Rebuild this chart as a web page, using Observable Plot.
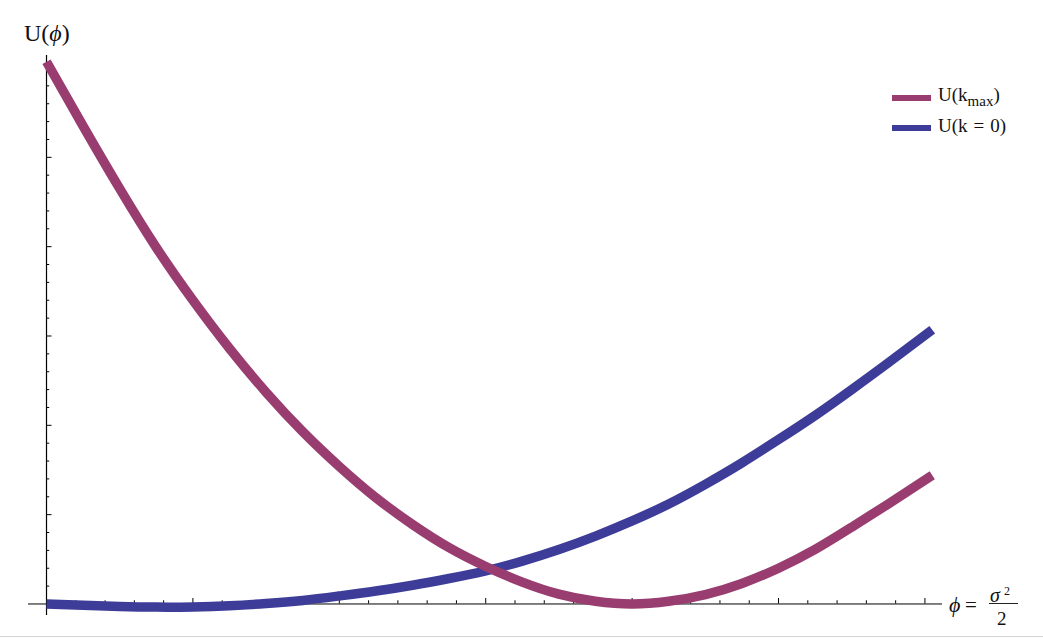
<!DOCTYPE html>
<html>
<head>
<meta charset="utf-8">
<script src="https://cdn.jsdelivr.net/npm/d3@7"></script>
<script src="https://cdn.jsdelivr.net/npm/@observablehq/plot@0.6"></script>
<style>
  html, body { margin: 0; padding: 0; background: #fff; }
  #wrap { position: relative; width: 1043px; height: 642px; overflow: hidden; background: #fff; }
  #chart svg { display: block; }
  .lbl { position: absolute; font-family: "Liberation Serif", "Times New Roman", Times, "DejaVu Serif", serif; color: #111; line-height: 1; white-space: nowrap; }
  .sw { position: absolute; height: 6px; width: 39px; }
  #bottomline { position: absolute; left: 0; top: 636px; width: 1043px; height: 1px; background: #d4d4d4; }
</style>
</head>
<body>
<div id="wrap">
  <div id="chart"></div>
  <div class="lbl" style="left:24px;top:21px;font-size:24px">U(<i>ϕ</i>)</div>

  <div class="sw" style="left:892px;top:95px;background:#993D71"></div>
  <div class="lbl" style="left:938px;top:85px;font-size:19px">U(k<span style="font-size:15px;position:relative;top:4.5px">max</span>)</div>
  <div class="sw" style="left:892px;top:125px;background:#3D3D99"></div>
  <div class="lbl" style="left:938px;top:116px;font-size:19px">U(k<span style="margin:0 6px">=</span>0)</div>

  <div class="lbl" style="left:949px;top:594px;font-size:22px"><i>ϕ</i></div>
  <div class="lbl" style="left:965px;top:595px;font-size:21px">=</div>
  <div class="lbl" style="left:990px;top:585px;font-size:20px"><i>σ</i></div>
  <div class="lbl" style="left:1004px;top:585px;font-size:12px">2</div>
  <div style="position:absolute;left:989px;top:603px;width:29px;height:1px;background:#222"></div>
  <div class="lbl" style="left:997px;top:609px;font-size:19px">2</div>
  <div id="bottomline"></div>
</div>
<script>
// x values (phi) and the two curves
const phi   = [0, 0.25, 0.5, 0.75, 1.0, 1.25, 1.5, 1.75, 2.0, 2.25, 2.5, 2.75, 3.0, 3.25, 3.5, 3.75, 4.0, 4.25, 4.5, 4.75, 5.0, 5.25, 5.5, 5.75, 6.05];
const uKmax = [6.07, 5.35, 4.65, 3.99, 3.40, 2.86, 2.37, 1.93, 1.54, 1.19, 0.89, 0.63, 0.42, 0.245, 0.11, 0.03, 0.0, 0.03, 0.105, 0.23, 0.40, 0.61, 0.86, 1.12, 1.44];
const uK0   = [0.0, -0.015, -0.028, -0.035, -0.033, -0.02, 0.005, 0.04, 0.09, 0.145, 0.21, 0.285, 0.37, 0.48, 0.61, 0.76, 0.93, 1.12, 1.34, 1.58, 1.84, 2.11, 2.40, 2.70, 3.07];

// tick positions (no labels in the original)
const xTickIdx = d3.range(1, 31);   // ticks every 0.2, major every 1
const yTickIdx = d3.range(1, 31);

const colKmax = "#993D71";
const colK0 = "#3D3D99";

const W = 1043, H = 642;
const mL = 28, mR = 101, mT = 55, mB = 27;
const xDom = [-0.123, 6.12], yDom = [-0.129, 6.14];
const pxPerX = (W - mL - mR) / (xDom[1] - xDom[0]);
const pxPerY = (H - mT - mB) / (yDom[1] - yDom[0]);

const data = phi.map((x, i) => ({x, kmax: uKmax[i], k0: uK0[i]}));
const xt = xTickIdx.map(i => ({v: i / 5, major: i % 5 === 0}));
const yt = yTickIdx.map(i => ({v: i / 5, major: i % 5 === 0}));

const chart = Plot.plot({
  width: W, height: H,
  marginLeft: mL, marginRight: mR, marginTop: mT, marginBottom: mB,
  x: {domain: xDom, axis: null},
  y: {domain: yDom, axis: null},
  style: {background: "transparent"},
  marks: [
    Plot.ruleY([0], {stroke: "#000", strokeWidth: 1}),
    Plot.ruleX([0], {stroke: "#000", strokeWidth: 1.2}),
    Plot.ruleX(xt, {x: "v", y1: 0, y2: d => (d.major ? 5.5 : 3.2) / pxPerY, stroke: "#000", strokeWidth: 1}),
    Plot.ruleY(yt, {y: "v", x1: 0, x2: d => (d.major ? 5.5 : 3.2) / pxPerX, stroke: "#000", strokeWidth: 1}),
    Plot.line(data, {x: "x", y: "k0", stroke: colK0, strokeWidth: 9.5, curve: "natural", strokeLinecap: "butt"}),
    Plot.line(data, {x: "x", y: "kmax", stroke: colKmax, strokeWidth: 9.5, curve: "natural", strokeLinecap: "butt"})
  ]
});
document.getElementById("chart").appendChild(chart);
</script>
</body>
</html>
